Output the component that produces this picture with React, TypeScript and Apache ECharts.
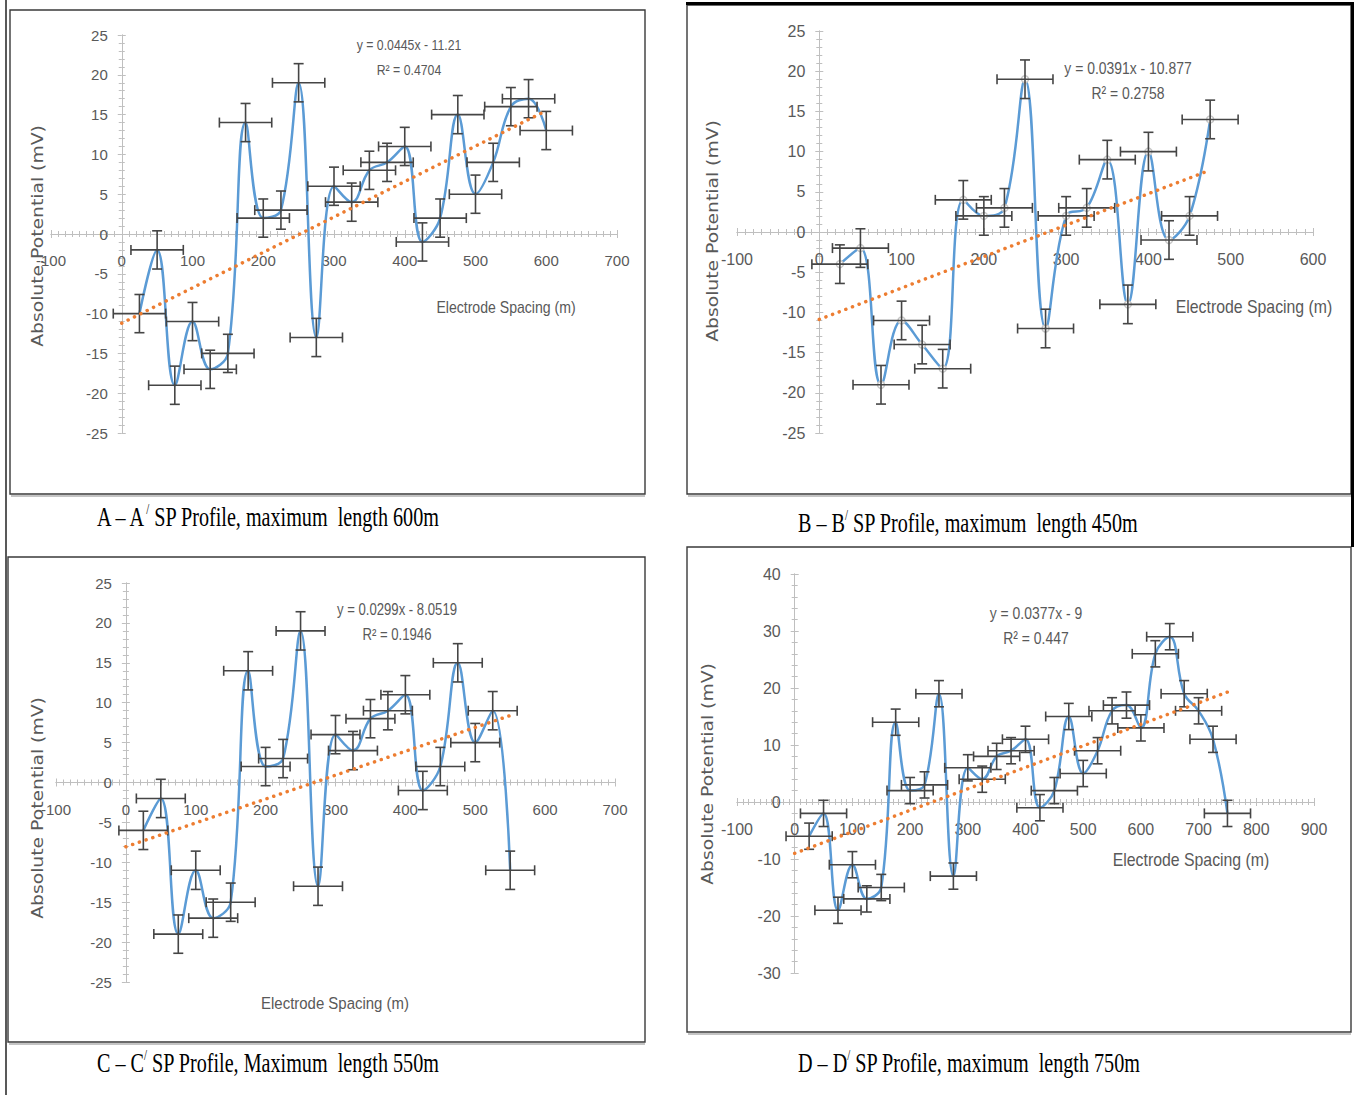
import React, { useEffect, useRef } from "react";
import * as echarts from "echarts";

// ---------- DATA ----------
// Panel A – A' (max length 600 m)
const xA = [25, 50, 75, 100, 125, 150, 175, 200, 225, 250, 275, 300, 325, 350, 375, 400, 425, 450, 475, 500, 525, 550, 575, 600];
const yA = [-10, -2, -19, -11, -17, -15, 14, 2, 3, 19, -13, 6, 4, 8, 9, 11, -1, 2, 15, 5, 9, 16, 17, 13];
// Panel B – B' (max length 450 m)
const xB = [25, 50, 75, 100, 125, 150, 175, 200, 225, 250, 275, 300, 325, 350, 375, 400, 425, 450, 475];
const yB = [-4, -2, -19, -11, -14, -17, 4, 2, 3, 19, -12, 2, 3, 9, -9, 10, -1, 2, 14];
// Panel C – C' (max length 550 m)
const xC = [25, 50, 75, 100, 125, 150, 175, 200, 225, 250, 275, 300, 325, 350, 375, 400, 425, 450, 475, 500, 525, 550];
const yC = [-6, -2, -19, -11, -17, -15, 14, 2, 3, 19, -13, 6, 4, 8, 9, 11, -1, 2, 15, 5, 9, -11];
// Panel D – D' (max length 750 m)
const xD = [25, 50, 75, 100, 125, 150, 175, 200, 225, 250, 275, 300, 325, 350, 375, 400, 425, 450, 475, 500, 525, 550, 575, 600, 625, 650, 675, 700, 725, 750];
const yD = [-6, -2, -19, -11, -17, -15, 14, 2, 3, 19, -13, 6, 4, 8, 9, 11, -1, 2, 15, 5, 9, 16, 17, 13, 26, 29, 19, 16, 11, -2];

// error bar half-widths (m) and half-heights (mV)
const xErrs = [37, 34, 35, 40];
const yErrs = [2.4, 2.4, 2.4, 2.3];

// linear trend lines (slope, intercept) as printed on the charts
const slopes = [0.0445, 0.0391, 0.0299, 0.0377];
const intercepts = [-11.21, -10.877, -8.0519, -9];
const equations = ["y = 0.0445x - 11.21", "y = 0.0391x - 10.877", "y = 0.0299x - 8.0519", "y = 0.0377x - 9"];
const r2Labels = ["R² = 0.4704", "R² = 0.2758", "R² = 0.1946", "R² = 0.447"];

// axis ranges
const xMins = [-100, -100, -100, -100];
const xMaxs = [700, 600, 700, 900];
const xInterval = 100;
const yMins = [-25, -25, -25, -30];
const yMaxs = [25, 25, 25, 40];
const yIntervals = [5, 5, 5, 10];

const yTitles = ["Absolute,Potential (mV)", "Absolute Potential (mV)", "Absolute Potential (mV)", "Absolute Potential (mV)"];
const xTitle = "Electrode Spacing (m)";
const captionLetters = ["A", "B", "C", "D"];
const captionRest = [
  " SP Profile, maximum  length 600m",
  " SP Profile, maximum  length 450m",
  " SP Profile, Maximum  length 550m",
  " SP Profile, maximum  length 750m",
];

// ---------- LAYOUT ----------
const grids = [
  { left: 51, top: 35, width: 566, height: 398 },
  { left: 737, top: 31, width: 576, height: 402 },
  { left: 56, top: 583, width: 559, height: 399 },
  { left: 737, top: 574, width: 577, height: 399 },
];
const fontSizes = [15, 16, 15, 16];
const boxes = [
  { x: 10, y: 10, w: 635, h: 484 },
  { x: 687, y: 5, w: 664, h: 489 },
  { x: 8, y: 557, w: 637, h: 485 },
  { x: 687, y: 547, w: 664, h: 485 },
];
const yTitlePos = [[38, 236], [713, 231], [38, 808], [708, 774]];
const xTitlePos = [[506, 307], [1254, 307], [335, 1003], [1191, 860]];
const xTitleSize = [16, 18, 17, 18];
const eqPos = [[409, 45], [1128, 68], [397, 610], [1036, 613]];
const eqSize = [15, 17, 16, 17];
const captionPos = [[97, 516], [798, 522], [97, 1062], [798, 1062]];

const SANS = "'Liberation Sans',Arial,sans-serif";
const SERIF = "'Liberation Serif','DejaVu Serif',serif";
const GRAY_TXT = "#595959";
const AXIS_GRAY = "#bfbfbf";

const xsAll = [xA, xB, xC, xD];
const ysAll = [yA, yB, yC, yD];

function buildOption() {
  const gridList: any[] = [];
  const xAxis: any[] = [];
  const yAxis: any[] = [];
  const series: any[] = [];
  const graphic: any[] = [];

  grids.forEach((g) => gridList.push({ ...g, containLabel: false }));

  grids.forEach((g, i) => {
    const fs = fontSizes[i];
    const axisBase = (dim: "x" | "y", pos: string, gridIndex: number) => ({
      gridIndex,
      type: "value",
      position: pos,
      min: dim === "x" ? xMins[i] : yMins[i],
      max: dim === "x" ? xMaxs[i] : yMaxs[i],
      interval: dim === "x" ? xInterval : yIntervals[i],
      splitLine: { show: false },
      minorSplitLine: { show: false },
    });
    const tickAxis = (dim: "x" | "y", pos: string, other: number) => ({
      ...axisBase(dim, pos, i),
      axisLine: { show: true, onZero: true, onZeroAxisIndex: other, lineStyle: { color: AXIS_GRAY, width: 1 } },
      axisTick: { show: true, length: 4, lineStyle: { color: AXIS_GRAY, width: 1 } },
      minorTick: { show: true, splitNumber: dim === "x" ? 10 : 5, length: 3, lineStyle: { color: AXIS_GRAY, width: 1 } },
      axisLabel: { show: false },
    });

    // main grid axes (two per dimension so that ticks cross the axis line)
    const xMain = xAxis.length;
    const yMain = yAxis.length;
    xAxis.push(tickAxis("x", "bottom", yMain));
    xAxis.push(tickAxis("x", "top", yMain));
    yAxis.push(tickAxis("y", "left", xMain));
    yAxis.push(tickAxis("y", "right", xMain));

    // helper grids that carry the tick labels next to the zero lines
    const zeroY = g.top + (g.height * yMaxs[i]) / (yMaxs[i] - yMins[i]);
    const zeroX = g.left + (g.width * (0 - xMins[i])) / (xMaxs[i] - xMins[i]);
    const labelStyle = { color: GRAY_TXT, fontSize: fs, fontFamily: SANS, hideOverlap: false };

    const gx = gridList.length;
    gridList.push({ left: g.left, width: g.width, top: g.top, height: zeroY - g.top, containLabel: false });
    xAxis.push({
      ...axisBase("x", "bottom", gx),
      axisLine: { show: false, onZero: false },
      axisTick: { show: false },
      minorTick: { show: false },
      axisLabel: { ...labelStyle, margin: 19 },
    });
    yAxis.push({ gridIndex: gx, type: "value", show: false, min: 0, max: 1 });

    const gy = gridList.length;
    gridList.push({ left: zeroX, width: g.left + g.width - zeroX, top: g.top, height: g.height, containLabel: false });
    yAxis.push({
      ...axisBase("y", "left", gy),
      axisLine: { show: false, onZero: false },
      axisTick: { show: false },
      minorTick: { show: false },
      axisLabel: { ...labelStyle, margin: 14 },
    });
    xAxis.push({ gridIndex: gy, type: "value", show: false, min: 0, max: 1 });

    const xs = xsAll[i];
    const ys = ysAll[i];
    const pts = xs.map((x, j) => [x, ys[j]]);

    series.push({
      type: "line",
      xAxisIndex: xMain,
      yAxisIndex: yMain,
      data: pts,
      smooth: 0.4,
      showSymbol: i === 1,
      symbol: "circle",
      symbolSize: 7,
      itemStyle: { color: "#ffffff", borderColor: "#c8c8c8", borderWidth: 1.5 },
      lineStyle: { color: "#5b9bd5", width: 2.5 },
      z: 2,
    });

    const xe = xErrs[i];
    const ye = yErrs[i];
    series.push({
      type: "custom",
      xAxisIndex: xMain,
      yAxisIndex: yMain,
      data: pts,
      encode: { x: 0, y: 1 },
      z: 3,
      renderItem: (_p: any, api: any) => {
        const x = api.value(0);
        const y = api.value(1);
        const l = api.coord([x - xe, y]);
        const r = api.coord([x + xe, y]);
        const t = api.coord([x, y + ye]);
        const b = api.coord([x, y - ye]);
        const cap = 5;
        const style = { stroke: "#454545", lineWidth: 1.6, fill: null };
        const ln = (x1: number, y1: number, x2: number, y2: number) => ({
          type: "line",
          shape: { x1, y1, x2, y2 },
          style,
        });
        return {
          type: "group",
          children: [
            ln(l[0], l[1], r[0], r[1]),
            ln(l[0], l[1] - cap, l[0], l[1] + cap),
            ln(r[0], r[1] - cap, r[0], r[1] + cap),
            ln(t[0], t[1], b[0], b[1]),
            ln(t[0] - cap, t[1], t[0] + cap, t[1]),
            ln(b[0] - cap, b[1], b[0] + cap, b[1]),
          ],
        };
      },
    });

    const xEnd = xs[xs.length - 1];
    series.push({
      type: "line",
      xAxisIndex: xMain,
      yAxisIndex: yMain,
      data: [
        [0, intercepts[i]],
        [xEnd, slopes[i] * xEnd + intercepts[i]],
      ],
      showSymbol: false,
      lineStyle: { color: "#ed7d31", width: 3.5, type: [0.1, 7], cap: "round" },
      z: 4,
    });

    // boxes
    const bx = boxes[i];
    graphic.push({
      type: "rect",
      shape: { x: bx.x, y: bx.y, width: bx.w, height: bx.h },
      style: { fill: null, stroke: "#3a3a3a", lineWidth: 1.4 },
      z: 1,
    });
    graphic.push({
      type: "line",
      shape: { x1: bx.x + 1, y1: bx.y + bx.h + 2, x2: bx.x + bx.w, y2: bx.y + bx.h + 2 },
      style: { stroke: "#b0b0b0", lineWidth: 1.5 },
      z: 1,
    });

    const centered = { textAlign: "center", textVerticalAlign: "middle", align: "center", verticalAlign: "middle" };
    // axis titles
    graphic.push({
      type: "text",
      x: yTitlePos[i][0],
      y: yTitlePos[i][1],
      rotation: Math.PI / 2,
      scaleX: 1.25,
      style: { text: yTitles[i], fill: GRAY_TXT, fontSize: 15, fontFamily: "'DejaVu Sans',sans-serif", ...centered },
      z: 10,
    });
    graphic.push({
      type: "text",
      x: xTitlePos[i][0],
      y: xTitlePos[i][1],
      scaleX: 0.88,
      style: { text: xTitle, fill: GRAY_TXT, fontSize: xTitleSize[i], fontFamily: SANS, ...centered },
      z: 10,
    });
    // trend equation
    graphic.push({
      type: "text",
      x: eqPos[i][0],
      y: eqPos[i][1],
      scaleX: 0.82,
      style: { text: equations[i], fill: GRAY_TXT, fontSize: eqSize[i], fontFamily: SANS, ...centered },
      z: 10,
    });
    graphic.push({
      type: "text",
      x: eqPos[i][0],
      y: eqPos[i][1] + 25,
      scaleX: 0.82,
      style: { text: r2Labels[i], fill: GRAY_TXT, fontSize: eqSize[i], fontFamily: SANS, ...centered },
      z: 10,
    });
    // caption
    const L = captionLetters[i];
    graphic.push({
      type: "text",
      x: captionPos[i][0],
      y: captionPos[i][1],
      scaleX: 0.72,
      style: {
        text: `{a|${L} – ${L}}{s|/}{a|${captionRest[i]}}`,
        fill: "#000",
        textAlign: "left",
        textVerticalAlign: "middle",
        align: "left",
        verticalAlign: "middle",
        rich: {
          a: { fontSize: 28, fontFamily: SERIF, fill: "#000", color: "#000" },
          s: { fontSize: 15, fontFamily: SERIF, fill: "#000", color: "#000", padding: [0, 0, 15, 0] },
        },
      },
      z: 10,
    });
  });

  // outer table borders
  graphic.push({ type: "line", shape: { x1: 6, y1: 0, x2: 6, y2: 1095 }, style: { stroke: "#222", lineWidth: 1.5 }, z: 1 });
  graphic.push({ type: "line", shape: { x1: 686, y1: 3.5, x2: 1353, y2: 3.5 }, style: { stroke: "#000", lineWidth: 3 }, z: 1 });
  graphic.push({ type: "line", shape: { x1: 1352.5, y1: 2, x2: 1352.5, y2: 547 }, style: { stroke: "#000", lineWidth: 3 }, z: 1 });

  return {
    animation: false,
    backgroundColor: "#ffffff",
    grid: gridList,
    xAxis,
    yAxis,
    series,
    graphic,
  };
}

export default function App() {
  const ref = useRef<HTMLDivElement>(null);
  useEffect(() => {
    if (!ref.current) return;
    const chart = echarts.init(ref.current, undefined, { renderer: "svg" });
    chart.setOption(buildOption() as any);
    return () => chart.dispose();
  }, []);
  return (
    <div
      ref={ref}
      style={{ position: "absolute", left: 0, top: 0, width: 1356, height: 1095, background: "#fff" }}
    />
  );
}
